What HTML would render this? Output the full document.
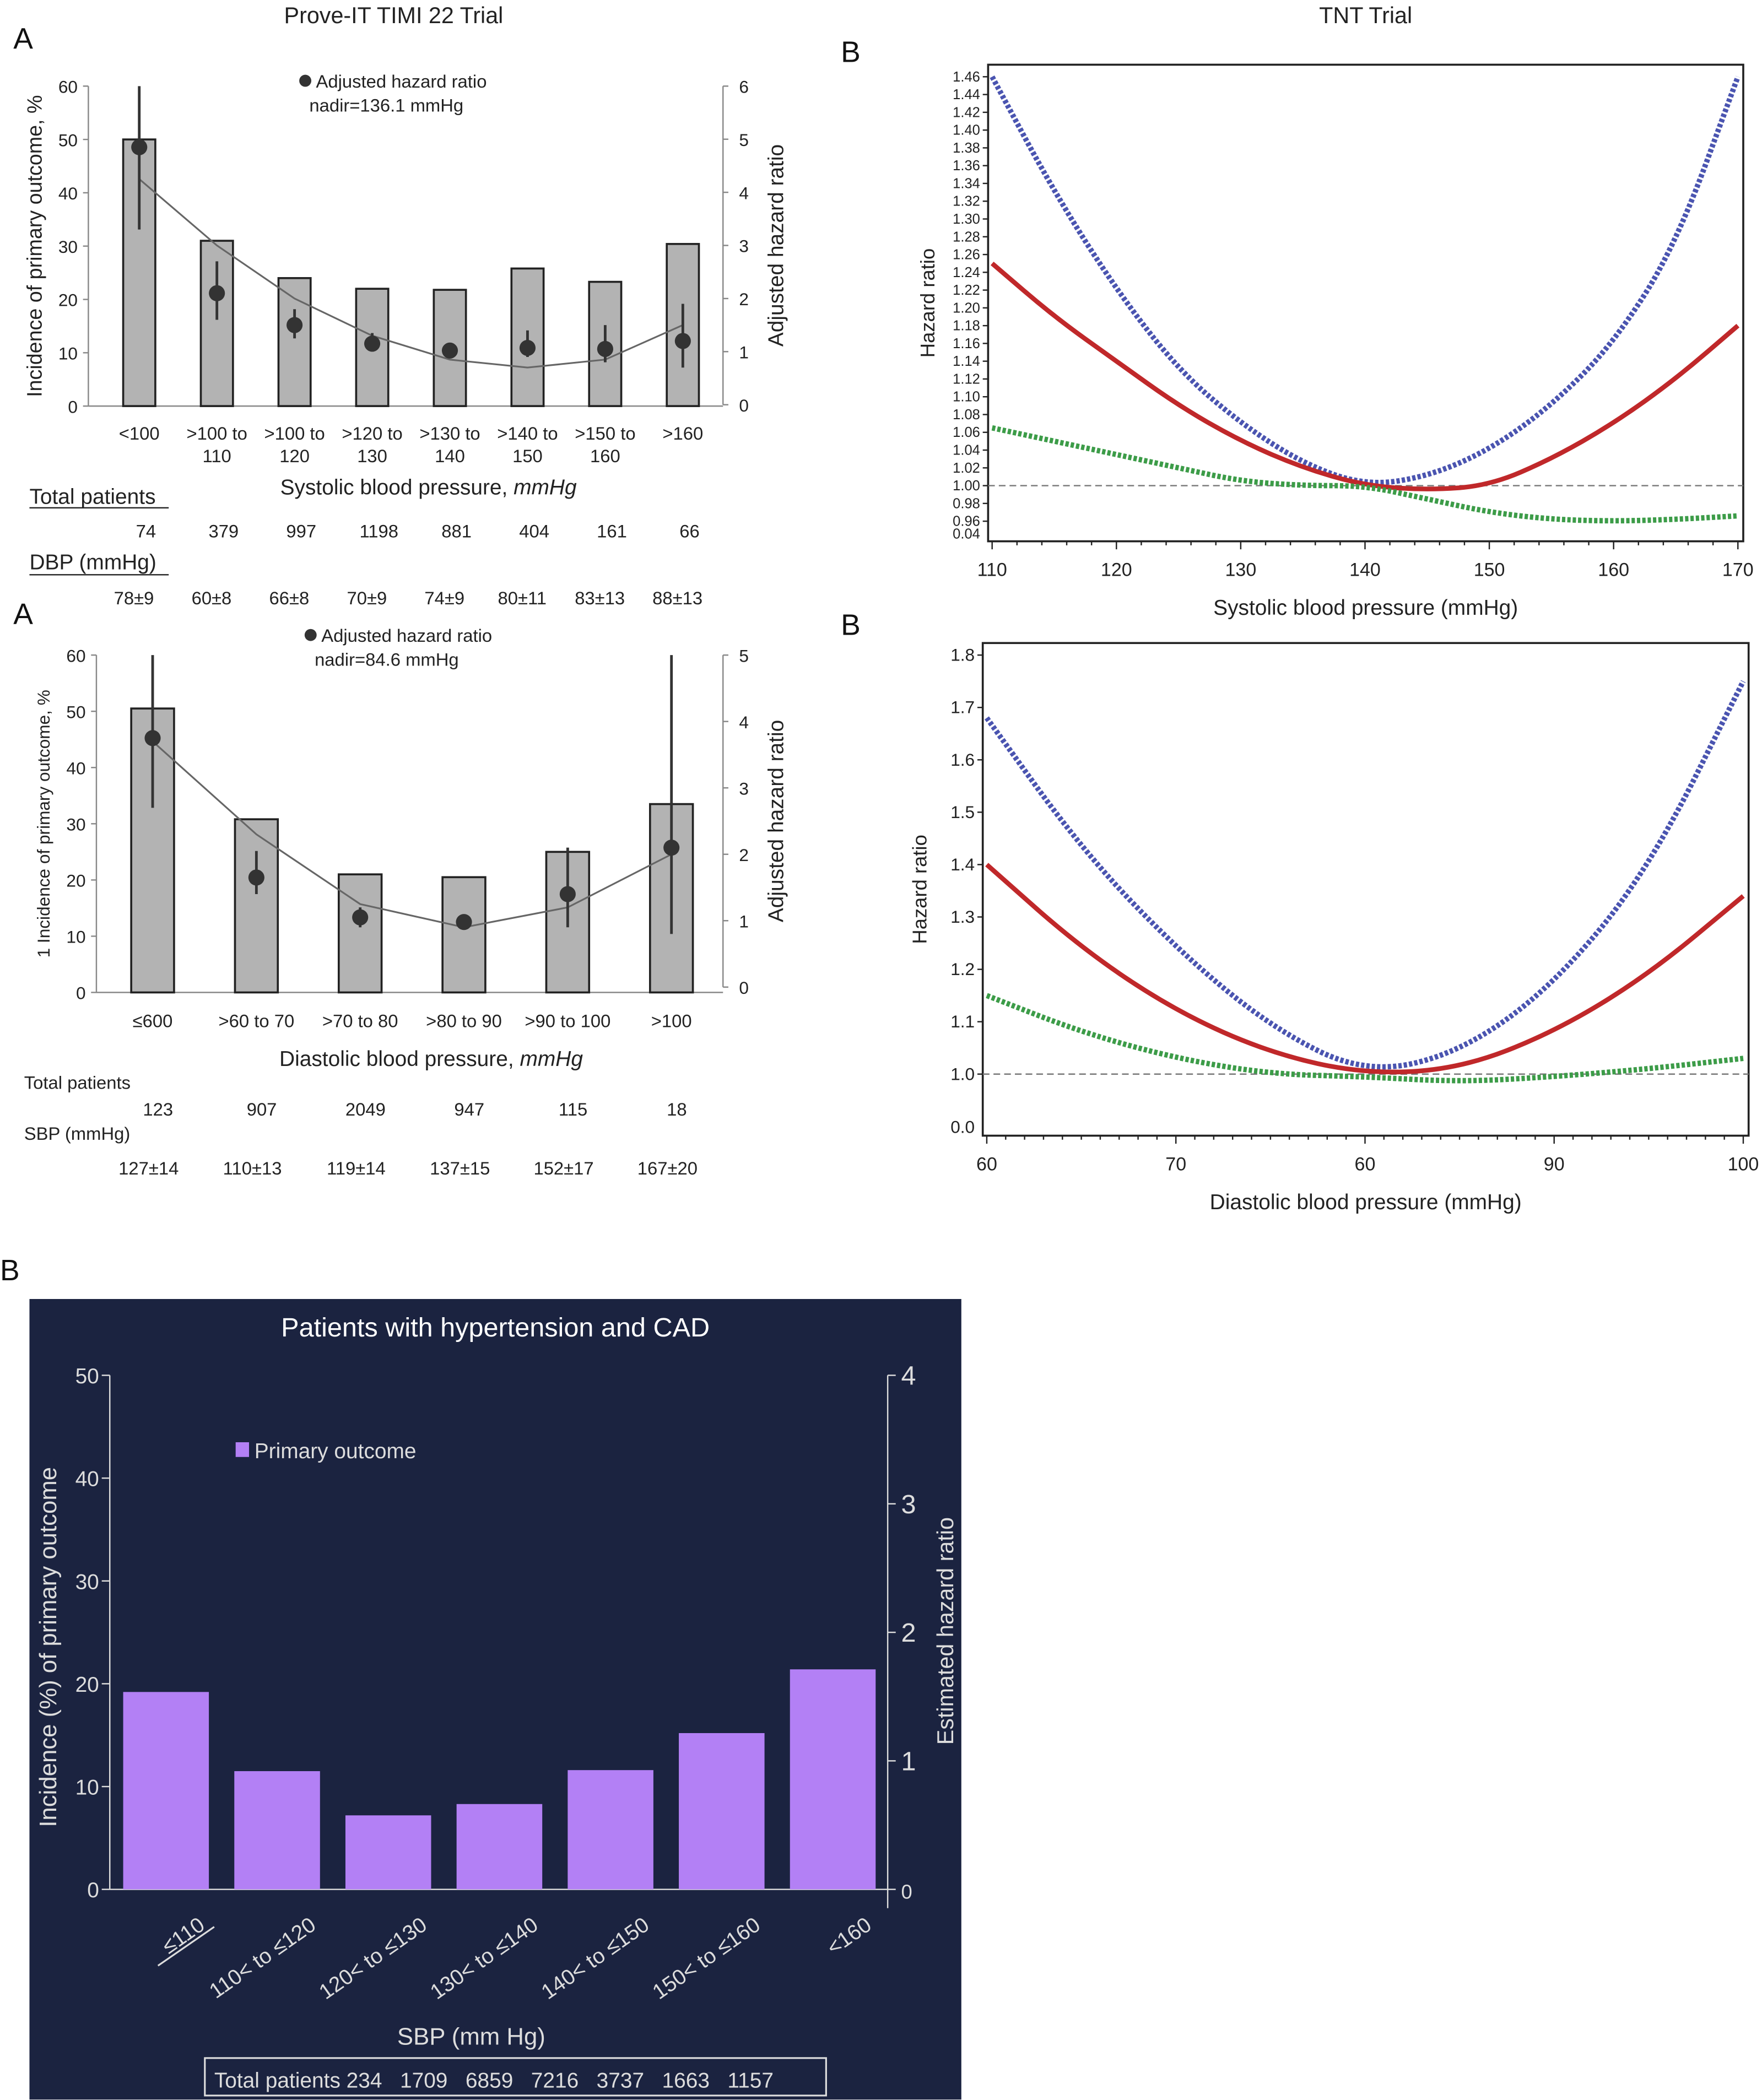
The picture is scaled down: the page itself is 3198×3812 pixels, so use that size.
<!DOCTYPE html>
<html><head><meta charset="utf-8">
<style>
html,body{margin:0;padding:0;background:#fff;}
svg{display:block;font-family:"Liberation Sans",sans-serif;}
</style></head>
<body>
<svg id="root" width="3198" height="3812" viewBox="0 0 1316 1568" xmlns="http://www.w3.org/2000/svg">
<g id="pA1"></g>
<g id="pA2"></g>
<g id="pB1"></g>
<g id="pB2"></g>
<g id="pC"></g>
</svg>
<script>
// ---- Panel A1 data ----
const a1Cats=["<100",">100 to|110",">100 to|120",">120 to|130",">130 to|140",">140 to|150",">150 to|160",">160"];
const a1Bars=[50,31,24,22,21.8,25.8,23.3,30.4];
const a1HR=[4.85,2.1,1.5,1.15,1.02,1.07,1.05,1.2];
const a1Lo=[3.3,1.6,1.25,1.0,0.95,0.9,0.8,0.7];
const a1Hi=[6,2.7,1.8,1.35,1.1,1.4,1.5,1.9];
const a1Fit=[4.25,3.0,2.0,1.3,0.85,0.7,0.85,1.5];
const a1Pat=["74","379","997","1198","881","404","161","66"];
const a1Dbp=["78±9","60±8","66±8","70±9","74±9","80±11","83±13","88±13"];
// ---- Panel A2 data ----
const a2Cats=["≤600",">60 to 70",">70 to 80",">80 to 90",">90 to 100",">100"];
const a2Bars=[50.5,30.8,21,20.5,25,33.5];
const a2HR=[3.75,1.65,1.05,0.98,1.4,2.1];
const a2Lo=[2.7,1.4,0.9,0.95,0.9,0.8];
const a2Hi=[5,2.05,1.2,1.05,2.1,5];
const a2Fit=[3.7,2.3,1.25,0.9,1.2,2.0];
const a2Pat=["123","907","2049","947","115","18"];
const a2Sbp=["127±14","110±13","119±14","137±15","152±17","167±20"];
// ---- Panel B1 data ----
const b1X=[110,115,120,125,130,135,140,145,150,155,160,165,170];
const b1Blue=[1.46,1.33,1.22,1.13,1.07,1.025,1.0,1.01,1.04,1.09,1.16,1.27,1.46];
const b1Red=[1.25,1.19,1.14,1.09,1.05,1.02,1.0,0.995,1.0,1.03,1.07,1.12,1.18];
const b1Green=[1.065,1.05,1.035,1.02,1.005,1.0,1.0,0.985,0.97,0.962,0.96,0.962,0.966];
const b1YT=["1.46","1.44","1.42","1.40","1.38","1.36","1.34","1.32","1.30","1.28","1.26","1.24","1.22","1.20","1.18","1.16","1.14","1.12","1.10","1.08","1.06","1.04","1.02","1.00","0.98","0.96"];
const b1XT=[110,120,130,140,150,160,170];
// ---- Panel B2 data ----
const b2X=[60,65,70,75,80,85,90,95,100];
const b2Blue=[1.68,1.43,1.24,1.09,1.0,1.04,1.17,1.39,1.75];
const b2Red=[1.4,1.24,1.12,1.04,1.0,1.01,1.08,1.19,1.34];
const b2Green=[1.15,1.08,1.03,1.0,0.995,0.985,0.995,1.01,1.03];
const b2YT=["1.8","1.7","1.6","1.5","1.4","1.3","1.2","1.1","1.0"];
const b2XT=[60,70,80,90,100];
const b2XL=["60","70","60","90","100"];
// ---- Panel C data ----
const cCats=["≤110","110< to ≤120","120< to ≤130","130< to ≤140","140< to ≤150","150< to ≤160","<160"];
const cVals=[19.2,11.5,7.2,8.3,11.6,15.2,21.4];
const cYT=[0,10,20,30,40,50];
const cRT=[0,1,2,3,4];
const cPat=["234","1709","6859","7216","3737","1663","1157"];

const NS="http://www.w3.org/2000/svg";
function mk(p,tag,at,txt){const e=document.createElementNS(NS,tag);for(const k in at)e.setAttribute(k,at[k]);if(txt!==undefined)e.textContent=txt;p.appendChild(e);return e;}
const root=document.getElementById('root');
let t;
t=mk(root,'text',{x:10,y:36,'font-size':22,fill:'#111'},'A');
t=mk(root,'text',{x:10,y:466,'font-size':22,fill:'#111'},'A');
t=mk(root,'text',{x:628,y:46,'font-size':22,fill:'#111'},'B');
t=mk(root,'text',{x:628,y:474,'font-size':22,fill:'#111'},'B');
t=mk(root,'text',{x:0,y:956,'font-size':22,fill:'#111'},'B');
t=mk(root,'text',{x:294,y:17,'font-size':17,'text-anchor':'middle',fill:'#222'},'Prove-IT TIMI 22 Trial');
t=mk(root,'text',{x:1020,y:17,'font-size':17,'text-anchor':'middle',fill:'#222'},'TNT Trial');

function barPanel(g,o){
  const yL=v=>o.y0-(v/o.lmax)*(o.y0-o.yT);
  const yR=v=>o.y0r-(v/o.rmax)*(o.y0r-o.yTr);
  const xc=i=>o.x0+i*o.step;
  mk(g,'line',{x1:o.ax,y1:o.yT,x2:o.ax,y2:o.y0,stroke:'#888'});
  mk(g,'line',{x1:o.ax,y1:o.y0,x2:o.rx,y2:o.y0,stroke:'#888'});
  mk(g,'line',{x1:o.rx,y1:o.yTr,x2:o.rx,y2:o.y0r,stroke:'#888'});
  for(let v=0;v<=o.lmax;v+=10){mk(g,'line',{x1:o.ax-4,x2:o.ax,y1:yL(v),y2:yL(v),stroke:'#888'});
    t=mk(g,'text',{x:o.ax-8,y:yL(v)+5,'font-size':13,'text-anchor':'end',fill:'#222'},v);}
  for(let v=0;v<=o.rmax;v++){mk(g,'line',{x1:o.rx,x2:o.rx+4,y1:yR(v),y2:yR(v),stroke:'#888'});
    t=mk(g,'text',{x:o.rx+12,y:yR(v)+5,'font-size':13,fill:'#222'},v);}
  o.bars.forEach((v,i)=>{const r=mk(g,'rect',{x:xc(i)-o.bw/2,y:yL(v),width:o.bw,height:o.y0-yL(v),fill:'#b3b3b3',stroke:'#222','stroke-width':1.5});
    });
  let d='';o.fit.forEach((v,i)=>{d+=(i?' L':'M')+xc(i)+','+yR(v);});
  const fp=mk(g,'path',{d:d,fill:'none',stroke:'#666','stroke-width':1.3});
  o.hr.forEach((v,i)=>{const l=mk(g,'line',{x1:xc(i),x2:xc(i),y1:yR(o.lo[i]),y2:yR(o.hi[i]),stroke:'#333','stroke-width':2});
    const c=mk(g,'circle',{cx:xc(i),cy:yR(v),r:6,fill:'#333'});});
  o.cats.forEach((c,i)=>{c.split('|').forEach((s,j)=>{t=mk(g,'text',{x:xc(i),y:o.labY+j*17,'font-size':13.5,'text-anchor':'middle',fill:'#222'},s);});});
  mk(g,'circle',{cx:o.legX,cy:o.legY-5,r:4.5,fill:'#333'});
  t=mk(g,'text',{x:o.legX+8,y:o.legY,'font-size':13.5,fill:'#222'},'Adjusted hazard ratio');
  t=mk(g,'text',{x:o.legX+3,y:o.legY+18,'font-size':13.5,fill:'#222'},o.nadir);
  t=mk(g,'text',{transform:`translate(${o.ltX},${(o.yT+o.y0)/2}) rotate(-90)`,'font-size':o.ltFs,'text-anchor':'middle',fill:'#222'},o.lt);
  t=mk(g,'text',{transform:`translate(${o.rx+45},${(o.yTr+o.y0r)/2}) rotate(-90)`,'font-size':16,'text-anchor':'middle',fill:'#222'},'Adjusted hazard ratio');
  t=mk(g,'text',{x:o.xtX,y:o.xtY,'font-size':16,'text-anchor':'middle',fill:'#222'});t.innerHTML=o.xt+', <tspan font-style="italic">mmHg</tspan>';
  return xc;
}
// A1
{const g=document.getElementById('pA1');
 const xc=barPanel(g,{ax:66,rx:540,yT:64,y0:303,yTr:64,y0r:302,lmax:60,rmax:6,x0:104,step:58,bw:24,bars:a1Bars,hr:a1HR,lo:a1Lo,hi:a1Hi,fit:a1Fit,cats:a1Cats,labY:328,legX:228,legY:65,nadir:'nadir=136.1 mmHg',ltX:31,ltFs:15.5,lt:'Incidence of primary outcome, %',xt:'Systolic blood pressure',xtX:320,xtY:369});
 t=mk(g,'text',{x:22,y:376,'font-size':16,fill:'#222'},'Total patients');
 mk(g,'line',{x1:22,x2:126,y1:379,y2:379,stroke:'#222'});
 t=mk(g,'text',{x:22,y:425,'font-size':16,fill:'#222'},'DBP (mmHg)');
 mk(g,'line',{x1:22,x2:126,y1:429,y2:429,stroke:'#222'});
 a1Pat.forEach((s,i)=>{t=mk(g,'text',{x:xc(i)+5,y:401,'font-size':13.5,'text-anchor':'middle',fill:'#222'},s);});
 a1Dbp.forEach((s,i)=>{t=mk(g,'text',{x:xc(i)-4,y:451,'font-size':13.5,'text-anchor':'middle',fill:'#222'},s);});
}
// A2
{const g=document.getElementById('pA2');
 const xc=barPanel(g,{ax:72,rx:540,yT:489,y0:741,yTr:489,y0r:737,lmax:60,rmax:5,x0:114,step:77.5,bw:32,bars:a2Bars,hr:a2HR,lo:a2Lo,hi:a2Hi,fit:a2Fit,cats:a2Cats,labY:767,legX:232,legY:479,nadir:'nadir=84.6 mmHg',ltX:37,ltFs:13,lt:'1 Incidence of primary outcome, %',xt:'Diastolic blood pressure',xtX:322,xtY:796});
 t=mk(g,'text',{x:18,y:813,'font-size':13.5,fill:'#222'},'Total patients');
 t=mk(g,'text',{x:18,y:851,'font-size':13.5,fill:'#222'},'SBP (mmHg)');
 a2Pat.forEach((s,i)=>{t=mk(g,'text',{x:xc(i)+4,y:833,'font-size':13.5,'text-anchor':'middle',fill:'#222'},s);});
 a2Sbp.forEach((s,i)=>{t=mk(g,'text',{x:xc(i)-3,y:877,'font-size':13.5,'text-anchor':'middle',fill:'#222'},s);});
}
function linePanel(g,o){
  const sx=v=>o.px0+(v-o.xmin)/(o.xmax-o.xmin)*(o.px1-o.px0);
  const sy=v=>o.py1-(v-o.ymin)/(o.ymax-o.ymin)*(o.py1-o.py0);
  const fr=mk(g,'rect',{x:o.bx0,y:o.by0,width:o.bx1-o.bx0,height:o.by1-o.by0,fill:'none',stroke:'#222','stroke-width':1.5});
  const ref=mk(g,'line',{x1:o.bx0,x2:o.bx1,y1:sy(1),y2:sy(1),stroke:'#777','stroke-dasharray':'5,3'});
  o.yt.forEach(s=>{const y=sy(parseFloat(s));mk(g,'line',{x1:o.bx0-4,x2:o.bx0,y1:y,y2:y,stroke:'#222'});
    t=mk(g,'text',{x:o.bx0-6,y:y+o.yfs/3,'font-size':o.yfs,'text-anchor':'end',fill:'#222'},s);});
  t=mk(g,'text',{x:o.bx0-6,y:o.by1-2,'font-size':o.yfs,'text-anchor':'end',fill:'#222'},o.extra);
  for(let v=o.xmin;v<=o.xmax;v+=o.minor){const x=sx(v);mk(g,'line',{x1:x,x2:x,y1:o.by1,y2:o.by1+((v-o.xmin)%10===0?6:3),stroke:'#222'});}
  o.xt.forEach((v,i)=>{t=mk(g,'text',{x:sx(v),y:o.by1+26,'font-size':14,'text-anchor':'middle',fill:'#222'},o.xl[i]);});
  const ser=[[o.blue,'#4a54b0','2.5,1.5',4,'series-blue'],[o.red,'#c0282a','',3.5,'series-red'],[o.green,'#3c9c48','2.5,1.5',4,'series-green']];
  ser.forEach(s=>{let d='';s[0].forEach((v,i)=>{const x=sx(o.xs[i]),y=sy(v);
      if(i===0)d='M'+x+','+y;else{const xp=sx(o.xs[i-1]),yp=sy(s[0][i-1]);d+=' Q'+xp+','+yp+' '+(xp+x)/2+','+(yp+y)/2;}});
    d+=' L'+sx(o.xs[o.xs.length-1])+','+sy(s[0][s[0].length-1]);
    const p=mk(g,'path',{d:d,fill:'none',stroke:s[1],'stroke-width':s[3]});if(s[2])p.setAttribute('stroke-dasharray',s[2]);
    });
  t=mk(g,'text',{transform:`translate(${o.ytX},${(o.by0+o.by1)/2}) rotate(-90)`,'font-size':15,'text-anchor':'middle',fill:'#222'},'Hazard ratio');
  t=mk(g,'text',{x:(o.bx0+o.bx1)/2,y:o.by1+55,'font-size':16,'text-anchor':'middle',fill:'#222'},o.title);
}
linePanel(document.getElementById('pB1'),{bx0:738,bx1:1302,by0:48,by1:404,px0:741,px1:1298,xmin:110,xmax:170,ymin:0.96,ymax:1.46,py0:57,py1:389,yt:b1YT,yfs:10.5,extra:'0.04',xs:b1X,blue:b1Blue,red:b1Red,green:b1Green,xt:b1XT,xl:b1XT.map(String),minor:2,ytX:698,title:'Systolic blood pressure (mmHg)'});
linePanel(document.getElementById('pB2'),{bx0:734,bx1:1306,by0:480,by1:848,px0:737,px1:1302,xmin:60,xmax:100,ymin:1.0,ymax:1.8,py0:489,py1:802,yt:b2YT,yfs:13,extra:'0.0',xs:b2X,blue:b2Blue,red:b2Red,green:b2Green,xt:b2XT,xl:b2XL,minor:1,ytX:692,title:'Diastolic blood pressure (mmHg)'});
// Panel C
{const g=document.getElementById('pC');
 const bg=mk(g,'rect',{x:22,y:970,width:696,height:598,fill:'#1b2340'});
 const yL=v=>1411-v/50*(1411-1027);const yR=v=>1411-v/4*(1411-1027);const xc=i=>124+i*83;
 t=mk(g,'text',{x:370,y:998,'font-size':20,'text-anchor':'middle',fill:'#fff'},'Patients with hypertension and CAD');
 mk(g,'line',{x1:82,x2:82,y1:1027,y2:1411,stroke:'#ddd'});mk(g,'line',{x1:82,x2:663,y1:1411,y2:1411,stroke:'#ddd'});
 mk(g,'line',{x1:663,x2:663,y1:1027,y2:1425,stroke:'#ddd'});
 cYT.forEach(v=>{mk(g,'line',{x1:76,x2:82,y1:yL(v),y2:yL(v),stroke:'#ddd'});t=mk(g,'text',{x:74,y:yL(v)+6,'font-size':16,'text-anchor':'end',fill:'#ddd'},v);});
 cRT.forEach(v=>{mk(g,'line',{x1:663,x2:669,y1:yR(v),y2:yR(v),stroke:'#ddd'});t=mk(g,'text',{x:673,y:yR(v)+7,'font-size':v?20:15,fill:'#ddd'},v);});
 cVals.forEach((v,i)=>{const r=mk(g,'rect',{x:xc(i)-32,y:yL(v),width:64,height:1411-yL(v),fill:'#b380f5'});});
 cCats.forEach((c,i)=>{t=mk(g,'text',{transform:`translate(${xc(i)+30},${1440}) rotate(-35)`,'font-size':16,'text-anchor':'end',fill:'#ddd'},c);});
 mk(g,'line',{x1:118,x2:160,y1:1468,y2:1439,stroke:'#ddd','stroke-width':1.3});
 mk(g,'rect',{x:176,y:1077,width:10,height:11,fill:'#b380f5'});
 t=mk(g,'text',{x:190,y:1089,'font-size':16,fill:'#ddd'},'Primary outcome');
 t=mk(g,'text',{transform:'translate(42,1230) rotate(-90)','font-size':18,'text-anchor':'middle',fill:'#ddd'},'Incidence (%) of primary outcome');
 t=mk(g,'text',{transform:'translate(712,1218) rotate(-90)','font-size':17,'text-anchor':'middle',fill:'#ddd'},'Estimated hazard ratio');
 t=mk(g,'text',{x:352,y:1527,'font-size':18,'text-anchor':'middle',fill:'#ddd'},'SBP (mm Hg)');
 mk(g,'rect',{x:153,y:1537,width:464,height:28,fill:'none',stroke:'#ddd','stroke-width':1.3});
 t=mk(g,'text',{x:160,y:1559,'font-size':16,fill:'#ddd',style:'white-space:pre'},'Total patients '+cPat.join('   '));
}
</script>
</body></html>
